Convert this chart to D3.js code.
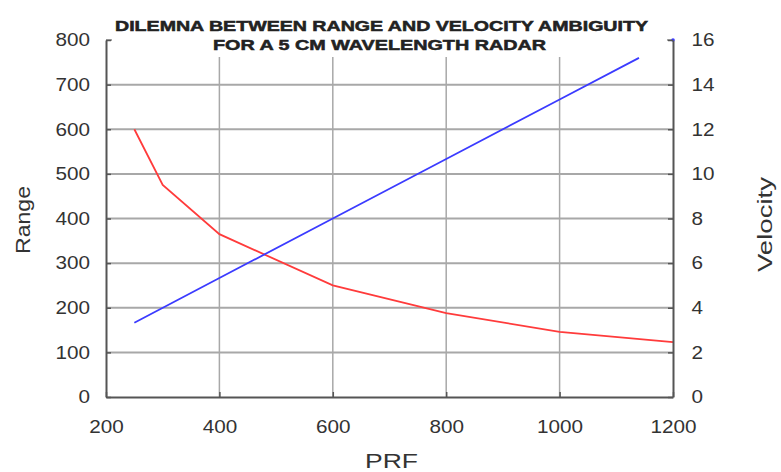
<!DOCTYPE html>
<html lang="en">
<head>
<meta charset="UTF-8">
<title>Range and velocity ambiguity</title>
<style>
  body { margin: 0; background: #fff; }
  svg { display: block; font-family: "Liberation Sans", Arial, sans-serif; }
  .axis path, .axis line { stroke: #555; }
  .axis path { stroke-width: 2px; }
  .axis line { stroke-width: 1.5px; }
  .axis text { font-size: 18px; fill: #333; }
  .grid line { stroke: #a8a8a8; }
</style>
</head>
<body>
<svg width="781" height="472"></svg>
<script src="https://d3js.org/d3.v7.min.js"></script>
<script>
// values
const prfTicks = [200, 400, 600, 800, 1000, 1200];
const rangeTicks = [0, 100, 200, 300, 400, 500, 600, 700, 800];
const velTicks = [0, 2, 4, 6, 8, 10, 12, 14, 16];

const rangePrf = [250, 300, 400, 600, 800, 1000, 1200];
const rangeVal = [600, 475, 365, 250, 188, 146, 123];

const velPrf = [250, 400, 600, 800, 1000, 1140];
const velVal = [3.33, 5.33, 8, 10.67, 13.33, 15.2];
const velDot = [1200, 16];

const titleLines = ["DILEMNA BETWEEN RANGE AND VELOCITY AMBIGUITY", "FOR A 5 CM WAVELENGTH RADAR"];

const width = 781, height = 472;
const margin = {top: 40, right: 108, bottom: 75, left: 106};
const svg = d3.select("svg");

const x = d3.scaleLinear().domain([200, 1200]).range([margin.left, width - margin.right]);
const yL = d3.scaleLinear().domain([0, 800]).range([height - margin.bottom, margin.top]);
const yR = d3.scaleLinear().domain([0, 16]).range([height - margin.bottom, margin.top]);

// grille
svg.append("g").attr("class", "grid")
  .selectAll("line").data(prfTicks.slice(1, -1)).join("line")
  .attr("x1", d => x(d)).attr("x2", d => x(d))
  .attr("y1", yL(0)).attr("y2", yL(800))
  .attr("stroke-width", 1.5).attr("stroke", "#b5b5b5");

svg.append("g").attr("class", "grid")
  .selectAll("line").data(rangeTicks.slice(1)).join("line")
  .attr("x1", x(200)).attr("x2", x(1200))
  .attr("y1", d => yL(d)).attr("y2", d => yL(d))
  .attr("stroke-width", 2);

// courbes
const red = rangePrf.map((p, i) => [p, rangeVal[i]]);
const blue = velPrf.map((p, i) => [p, velVal[i]]);

svg.append("path").datum(red)
  .attr("fill", "none").attr("stroke", "#ff3b3b").attr("stroke-width", 1.8)
  .attr("d", d3.line().x(d => x(d[0])).y(d => yL(d[1])));

svg.append("path").datum(blue)
  .attr("fill", "none").attr("stroke", "#3b3bff").attr("stroke-width", 1.8)
  .attr("d", d3.line().x(d => x(d[0])).y(d => yR(d[1])));

svg.append("circle")
  .attr("cx", x(velDot[0])).attr("cy", yR(velDot[1])).attr("r", 1.8)
  .attr("fill", "#3b3bff");

// titre sur fond blanc
svg.append("rect")
  .attr("x", x(200) + 6).attr("y", 8)
  .attr("width", x(1200) - x(200) - 12).attr("height", 49)
  .attr("fill", "#fff");

svg.append("g").selectAll("text").data(titleLines).join("text")
  .attr("x", (d, i) => i === 0 ? 381.5 : 379.5)
  .attr("y", (d, i) => i === 0 ? 31 : 50)
  .attr("text-anchor", "middle")
  .attr("font-size", 14).attr("font-weight", "bold").attr("fill", "#222")
  .attr("stroke", "#222").attr("stroke-width", 0.5)
  .attr("textLength", (d, i) => i === 0 ? 533 : 333)
  .attr("lengthAdjust", "spacingAndGlyphs")
  .text(d => d);

// axes
const stretch = "scale(1.15,1)";
const fmt = d3.format("d");

svg.append("g").attr("class", "axis")
  .attr("transform", `translate(${margin.left},0)`)
  .call(d3.axisLeft(yL).tickValues(rangeTicks).tickFormat(fmt).tickSize(-5).tickSizeOuter(0).tickPadding(14))
  .call(g => g.selectAll("text").attr("transform", stretch));

svg.append("g").attr("class", "axis")
  .attr("transform", `translate(${width - margin.right},0)`)
  .call(d3.axisRight(yR).tickValues(velTicks).tickFormat(fmt).tickSize(-5).tickSizeOuter(0).tickPadding(16))
  .call(g => g.selectAll("text").attr("transform", stretch));

svg.append("g").attr("class", "axis")
  .attr("transform", `translate(0,${height - margin.bottom})`)
  .call(d3.axisBottom(x).tickValues(prfTicks).tickFormat(fmt).tickSize(-5).tickSizeOuter(0).tickPadding(23))
  .call(g => g.selectAll("text").attr("transform", stretch));

// titres d'axes
svg.append("text")
  .attr("transform", "translate(29.5,220) rotate(-90)")
  .attr("text-anchor", "middle").attr("font-size", 20).attr("fill", "#333")
  .attr("textLength", 68).attr("lengthAdjust", "spacingAndGlyphs")
  .text("Range");

svg.append("text")
  .attr("transform", "translate(772,224.5) rotate(-90)")
  .attr("text-anchor", "middle").attr("font-size", 20).attr("fill", "#333")
  .attr("textLength", 95).attr("lengthAdjust", "spacingAndGlyphs")
  .text("Velocity");

svg.append("text")
  .attr("x", 391.5).attr("y", 468)
  .attr("text-anchor", "middle").attr("font-size", 21).attr("fill", "#333")
  .attr("textLength", 53).attr("lengthAdjust", "spacingAndGlyphs")
  .text("PRF");
</script>
</body>
</html>
